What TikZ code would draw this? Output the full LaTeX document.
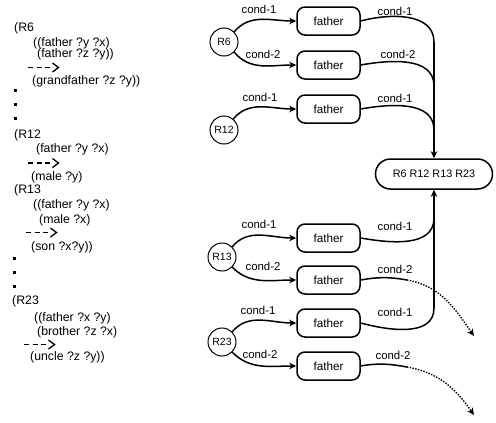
\documentclass[tikz,border=0pt]{standalone}
\usepackage{fontspec}
\setmainfont{Liberation Sans}
\usetikzlibrary{arrows.meta}
\begin{document}
\begin{tikzpicture}[x=1pt,y=1pt,
  every node/.style={inner sep=0pt},
  rule/.style={anchor=base west, font=\fontsize{12.3}{14}\selectfont},
  fbox/.style={draw, line width=1.5pt, rounded corners=8pt, minimum width=63pt, minimum height=28pt, font=\fontsize{11.7}{14}\selectfont},
  allbox/.style={draw, line width=1.5pt, rounded corners=15pt, minimum width=117pt, minimum height=30pt, font=\fontsize{10.8}{13}\selectfont},
  rnode/.style={draw, circle, line width=1pt, minimum size=28pt, font=\fontsize{10.5}{12}\selectfont},
  lbl/.style={font=\fontsize{11.4}{13}\selectfont},
  conn/.style={line width=1.5pt},
  arr/.style={conn, -{Stealth[length=7pt,width=6.5pt,inset=2pt]}},
  dotarr/.style={line width=1.4pt, dash pattern=on 1.4pt off 1.4pt, -{Stealth[length=7pt,width=6.5pt,inset=2pt]}},
  dsh/.style={line width=1.4pt, dash pattern=on 5pt off 3.7pt},
  chev/.style={line width=1.3pt},
  dotsq/.style={fill=black},
  ]
\useasboundingbox (0,0) rectangle (496,-423);

% ---------- left: rules ----------
\node[rule] (t1) at (14,-31) {(R6};
\node[rule] (t2) at (33,-46) {((father ?y ?x)};
\node[rule] (t3) at (37,-57.5) {(father ?z ?y))};
\draw[dsh] (28,-67.5) -- (50.5,-67.5);
\draw[chev] (52.5,-63) -- (58.5,-67.5) -- (52.5,-72);
\node[rule] (t4) at (32,-84.5) {(grandfather ?z ?y))};
\fill[dotsq] (13.5,-88.5) rectangle ++(3,-3);
\fill[dotsq] (13.5,-102.5) rectangle ++(3,-3);
\fill[dotsq] (13.5,-116.5) rectangle ++(3,-3);
\node[rule] (t5) at (14,-138.5) {(R12};
\node[rule] (t6) at (36,-152.5) {(father ?y ?x)};
\draw[dsh] (28,-163) -- (50.5,-163);
\draw[chev] (52.5,-158.5) -- (58.5,-163) -- (52.5,-167.5);
\node[rule] (t7) at (31,-180.5) {(male ?y)};
\node[rule] (t8) at (14,-193.5) {(R13};
\node[rule] (t9) at (33,-208.5) {((father ?y ?x)};
\node[rule] (t10) at (39,-223.5) {(male ?x)};
\draw[dsh] (26,-232.5) -- (48.5,-232.5);
\draw[chev] (50.5,-228) -- (56.5,-232.5) -- (50.5,-237);
\node[rule] (t11) at (31,-250.5) {(son ?x?y))};
\fill[dotsq] (12.5,-256.5) rectangle ++(3,-3);
\fill[dotsq] (12.5,-270.5) rectangle ++(3,-3);
\fill[dotsq] (12.5,-284.5) rectangle ++(3,-3);
\node[rule] (t12) at (12,-304.5) {(R23};
\node[rule] (t13) at (34,-321.5) {((father ?x ?y)};
\node[rule] (t14) at (37,-335.5) {(brother ?z ?x)};
\draw[dsh] (24,-344.5) -- (46.5,-344.5);
\draw[chev] (48.5,-340) -- (54.5,-344.5) -- (48.5,-349);
\node[rule] (t15) at (30,-360.5) {(uncle ?z ?y))};

% ---------- right: network ----------
\node[rnode] (R6) at (224,-42) {R6};
\node[rnode] (R12) at (224,-130) {R12};
\node[rnode] (R13) at (222,-257) {R13};
\node[rnode] (R23) at (222,-342) {R23};

\node[fbox] (f1) at (328.5,-21) {father};
\node[fbox] (f2) at (328.5,-65) {father};
\node[fbox] (f3) at (328.5,-109) {father};
\node[fbox] (f4) at (328.5,-238) {father};
\node[fbox] (f5) at (328.5,-280) {father};
\node[fbox] (f6) at (328.5,-323) {father};
\node[fbox] (f7) at (328.5,-366) {father};

\node[allbox] (all) at (434,-174) {R6 R12 R13 R23};

% rule -> condition edges
\draw[arr] (R6.45) to[out=50,in=180] (f1.west);
\draw[arr] (R6.-45) to[out=-50,in=180] (f2.west);
\draw[arr] (R12.50) to[out=50,in=180] (f3.west);
\draw[arr] (R13.45) to[out=50,in=180] (f4.west);
\draw[arr] (R13.-45) to[out=-45,in=180] (f5.west);
\draw[arr] (R23.45) to[out=50,in=180] (f6.west);
\draw[arr] (R23.-45) to[out=-45,in=180] (f7.west);

\node[lbl] (c1) at (259,-9.5) {cond-1};
\node[lbl] (c2) at (263,-54) {cond-2};
\node[lbl] (c3) at (260,-97) {cond-1};
\node[lbl] (c4) at (259,-224) {cond-1};
\node[lbl] (c5) at (263,-266) {cond-2};
\node[lbl] (c6) at (258,-310) {cond-1};
\node[lbl] (c7) at (260,-354) {cond-2};

% condition -> result edges
\coordinate (m1) at (434,-42);
\coordinate (m2) at (434,-86);
\coordinate (m3) at (434,-130);
\coordinate (m4) at (434,-218);
\coordinate (m6) at (434,-308);
\draw[conn] (f1.east) to[out=15,in=90] (m1);
\draw[conn] (f2.east) to[out=10,in=90] (m2);
\draw[conn] (f3.east) to[out=10,in=90] (m3);
\draw[arr] (m1) -- (all.north);
\draw[conn] (f4.east) to[out=-10,in=-90] (m4);
\draw[conn] (f6.east) to[out=-15,in=-90] (m6);
\draw[arr] (m6) -- (all.south);

\coordinate (d5) at (407,-280);
\coordinate (e5) at (474,-336);
\coordinate (d7) at (407,-367);
\coordinate (e7) at (474,-415);
\draw[conn] (f5.east) to[out=10,in=170] (d5);
\draw[dotarr] (d5) to[out=-10,in=125] (e5);
\draw[conn] (f7.east) to[out=10,in=170] (d7);
\draw[dotarr] (d7) to[out=-10,in=125] (e7);

\node[lbl] (r1) at (395,-11.5) {cond-1};
\node[lbl] (r2) at (398,-54) {cond-2};
\node[lbl] (r3) at (395,-98) {cond-1};
\node[lbl] (r4) at (395,-226) {cond-1};
\node[lbl] (r5) at (395,-269) {cond-2};
\node[lbl] (r6) at (395,-312) {cond-1};
\node[lbl] (r7) at (393,-355) {cond-2};
\end{tikzpicture}
\end{document}
